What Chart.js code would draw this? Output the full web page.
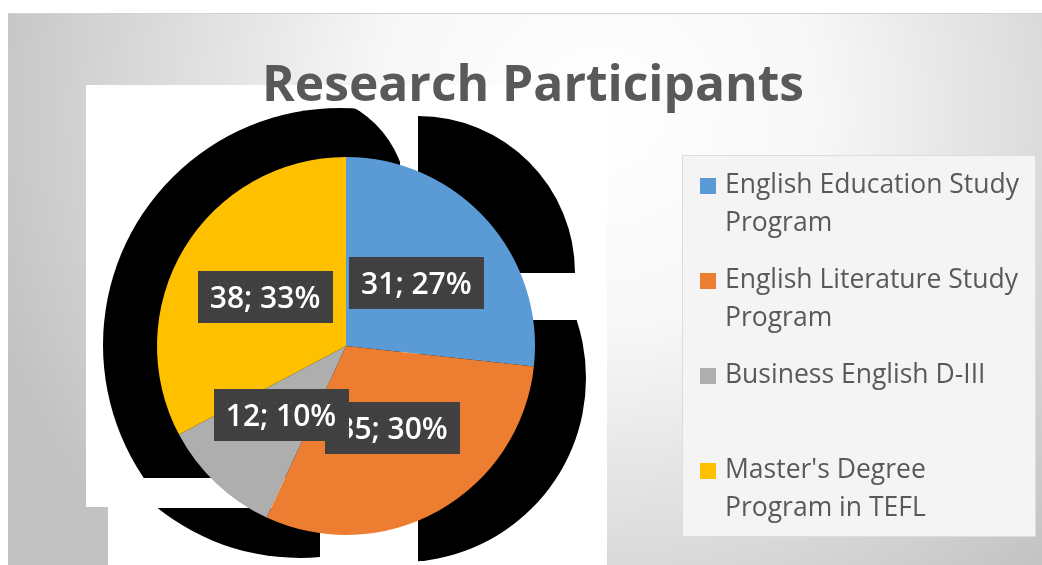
<!DOCTYPE html>
<html>
<head>
<meta charset="utf-8">
<script src="https://cdn.jsdelivr.net/npm/chart.js@4.4.0/dist/chart.umd.min.js"></script>
<style>
    html, body { margin: 0; padding: 0; background: #fff; }
    #grafico { display: block; }
</style>
</head>
<body>
<canvas id="grafico" width="1042" height="565"></canvas>
<script>
// Dados do gráfico
const categorias = [
    'English Education Study Program',
    'English Literature Study Program',
    'Business English D-III',
    "Master's Degree Program in TEFL"
];
const participantes = [31, 35, 12, 38];
const coresFatias = ['#5B9BD5', '#ED7D31', '#AEAEAE', '#FFC000'];
// Quebras de linha da legenda, como no original
const linhasLegenda = [
    ['English Education Study', 'Program'],
    ['English Literature Study', 'Program'],
    ['Business English D-III'],
    ["Master's Degree", 'Program in TEFL']
];
const tituloGrafico = 'Research Participants';

const total = participantes.reduce((a, b) => a + b, 0);
const rotulos = participantes.map(v => `${v}; ${Math.round(v / total * 100)}%`);

// Disco preto recortado por um retângulo (sombra "quebrada" do original)
function discoRecortado(ctx, c, r, x0, y0, x1, y1) {
    ctx.save();
    ctx.beginPath();
    ctx.rect(x0, y0, x1 - x0, y1 - y0);
    ctx.clip();
    ctx.beginPath();
    ctx.arc(c[0], c[1], r, 0, Math.PI * 2);
    ctx.fill();
    ctx.restore();
}

const fundo = {
    id: 'fundo',
    beforeDraw(chart) {
        const ctx = chart.ctx;
        const W = chart.width, H = chart.height;
        const arco = chart.getDatasetMeta(0).data[0];
        const k = arco.outerRadius / 189;
        const P = (dx, dy) => [arco.x + dx * k, arco.y + dy * k];

        ctx.save();
        ctx.fillStyle = '#ffffff';
        ctx.fillRect(0, 0, W, H);

        const grad = ctx.createRadialGradient(600, 110, 0, 600, 110, 640);
        grad.addColorStop(0, '#ffffff');
        grad.addColorStop(0.35, '#f7f7f7');
        grad.addColorStop(1, '#c2c2c2');
        ctx.fillStyle = grad;
        ctx.fillRect(8, 13, W - 8, H - 13);
        ctx.fillStyle = '#d4d4d4';
        ctx.fillRect(8, 13, W - 8, 1);

        // área branca atrás da pizza
        ctx.fillStyle = '#ffffff';
        ctx.fillRect(86, 85, 521, 422);
        ctx.fillRect(108, 507, 499, 58);

        // pedaços pretos
        ctx.fillStyle = '#000000';
        discoRecortado(ctx, P(-6, -1), 237 * k, 0, 0, P(54, 0)[0], P(0, 132)[1]);

        // recorte curvo entre os pedaços de cima
        ctx.save();
        const g0 = P(-46, -246), g1 = P(54, -146);
        ctx.beginPath();
        ctx.rect(g0[0], g0[1], g1[0] - g0[0], g1[1] - g0[1]);
        ctx.clip();
        ctx.beginPath();
        ctx.rect(g0[0], g0[1], g1[0] - g0[0], g1[1] - g0[1]);
        const gc = P(-46, -146);
        ctx.moveTo(gc[0] + 107 * k, gc[1]);
        ctx.arc(gc[0], gc[1], 107 * k, 0, Math.PI * 2);
        ctx.fillStyle = '#ffffff';
        ctx.fill('evenodd');
        ctx.restore();

        ctx.fillStyle = '#000000';
        const b = P(72, -73);
        ctx.beginPath();
        ctx.moveTo(b[0], b[1]);
        ctx.arc(b[0], b[1], 157 * k, -Math.PI / 2, 0);
        ctx.closePath();
        ctx.fill();

        discoRecortado(ctx, P(56, 32), 184 * k, P(72, 0)[0], P(0, -26)[1], W, H);
        discoRecortado(ctx, P(-46, -16), 228 * k, 0, P(0, 162)[1], P(-26, 0)[0], H);
        ctx.restore();
    }
};

function criarPadrao(ctx) {
    const c = document.createElement('canvas');
    c.width = 8;
    c.height = 8;
    const p = c.getContext('2d');
    p.fillStyle = '#404040';
    p.fillRect(0, 0, 8, 8);
    p.fillStyle = '#5e5e5e';
    p.fillRect(3, 3, 1, 1);
    return ctx.createPattern(c, 'repeat');
}

const rotulosFatias = {
    id: 'rotulosFatias',
    afterDatasetsDraw(chart) {
        const ctx = chart.ctx;
        const padrao = criarPadrao(ctx);
        ctx.save();
        ctx.font = "600 30px 'Open Sans'";
        ctx.textAlign = 'center';
        ctx.textBaseline = 'alphabetic';
        chart.getDatasetMeta(0).data.forEach((arco, i) => {
            const { x, y } = arco.getCenterPoint();
            const w = ctx.measureText(rotulos[i]).width + 24;
            const h = 52;
            ctx.fillStyle = padrao;
            ctx.fillRect(Math.round(x - w / 2), Math.round(y - h / 2), Math.round(w), h);
            ctx.fillStyle = '#ffffff';
            ctx.fillText(rotulos[i], x, y + 11);
        });
        ctx.restore();
    }
};

const tituloLegenda = {
    id: 'tituloLegenda',
    afterDraw(chart) {
        const ctx = chart.ctx;
        ctx.save();
        ctx.fillStyle = '#595959';
        ctx.font = "bold 50px 'Open Sans'";
        ctx.textAlign = 'center';
        ctx.textBaseline = 'alphabetic';
        ctx.fillText(tituloGrafico, 533, 101, 542);

        // caixa da legenda
        ctx.fillStyle = '#f4f4f4';
        ctx.fillRect(682, 155, 353, 381);
        ctx.strokeStyle = '#dcdcdc';
        ctx.lineWidth = 1;
        ctx.strokeRect(682.5, 155.5, 353, 381);

        ctx.font = "26.5px 'Open Sans'";
        ctx.textAlign = 'left';
        linhasLegenda.forEach((linhas, i) => {
            const y0 = 193 + i * 95;
            ctx.fillStyle = chart.data.datasets[0].backgroundColor[i];
            ctx.fillRect(700, y0 - 15, 16, 16);
            ctx.fillStyle = '#595959';
            linhas.forEach((t, j) => ctx.fillText(t, 725, y0 + j * 38, 300));
        });
        ctx.restore();
    }
};

document.addEventListener('DOMContentLoaded', () => {
    const ctx = document.getElementById('grafico').getContext('2d');
    window.graficoParticipantes = new Chart(ctx, {
        type: 'pie',
        data: {
            labels: categorias,
            datasets: [{
                data: participantes,
                backgroundColor: coresFatias,
                borderWidth: 0
            }]
        },
        options: {
            responsive: false,
            animation: false,
            devicePixelRatio: 1,
            layout: {
                padding: { left: 157, right: 507, top: 157, bottom: 30 }
            },
            plugins: {
                legend: { display: false },
                tooltip: { enabled: false },
                title: { display: false }
            }
        },
        plugins: [fundo, rotulosFatias, tituloLegenda]
    });
});
</script>
</body>
</html>
